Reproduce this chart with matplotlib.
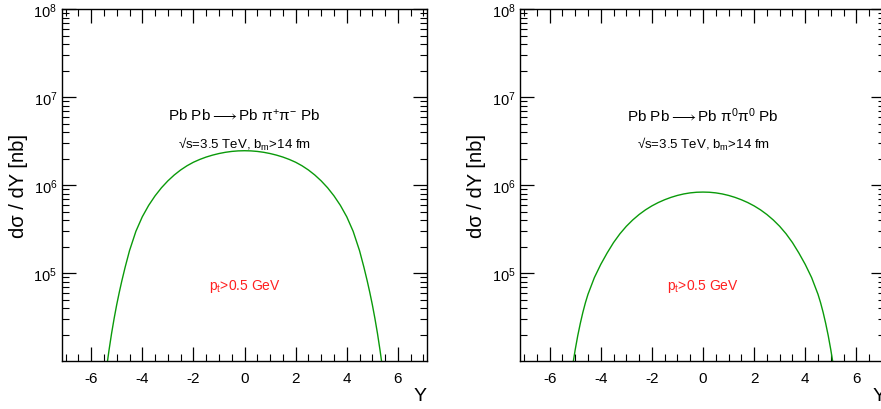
# -*- coding: utf-8 -*-
"""
Pb Pb -> Pb pi pi Pb : dsigma/dY, two panels.
"""
import matplotlib
matplotlib.use("Agg")
import matplotlib.pyplot as plt
from matplotlib.ticker import MultipleLocator, LogLocator, NullFormatter

plt.rcParams['font.family'] = ['Liberation Sans', 'DejaVu Sans']
plt.rcParams['mathtext.fontset'] = 'custom'
plt.rcParams['mathtext.rm'] = 'Liberation Sans'
plt.rcParams['mathtext.it'] = 'Liberation Sans:italic'
plt.rcParams['mathtext.sf'] = 'Liberation Sans'
plt.rcParams['mathtext.fallback'] = 'stixsans'
plt.rcParams['axes.unicode_minus'] = False

# rapidity points (pi+ pi-)
Y_pm = [-5.4, -5.3, -5.2, -5.1, -5.0, -4.9, -4.8, -4.67, -4.5, -4.25, -4.0, -3.75,
        -3.5, -3.25, -3.0, -2.75, -2.5, -2.25, -2.0, -1.75, -1.5, -1.25, -1.0,
        -0.75, -0.5, -0.25, 0.0,
        0.25, 0.5, 0.75, 1.0, 1.25, 1.5, 1.75, 2.0, 2.25, 2.5, 2.75, 3.0, 3.25,
        3.5, 3.75, 4.0, 4.25, 4.5, 4.67, 4.8, 4.9, 5.0, 5.1, 5.2, 5.3, 5.4]
# log10(dsigma/dY [nb])
lg_pm = [3.916, 4.126, 4.316, 4.486, 4.641, 4.781, 4.911, 5.067, 5.254, 5.474, 5.639, 5.769,
         5.877, 5.969, 6.047, 6.114, 6.171, 6.219, 6.259, 6.291, 6.318, 6.34, 6.358,
         6.372, 6.382, 6.388, 6.39,
         6.388, 6.382, 6.372, 6.358, 6.34, 6.318, 6.291, 6.259, 6.219, 6.171, 6.114, 6.047, 5.969,
         5.877, 5.769, 5.639, 5.474, 5.254, 5.067, 4.911, 4.781, 4.641, 4.486, 4.316, 4.126, 3.916]

# rapidity points (pi0 pi0)
Y_00 = [-5.1, -5.0, -4.9, -4.8, -4.7, -4.6, -4.5, -4.25, -4.0, -3.75, -3.5, -3.25,
        -3.0, -2.75, -2.5, -2.25, -2.0, -1.75, -1.5, -1.25, -1.0, -0.75, -0.5,
        -0.25, 0.0,
        0.25, 0.5, 0.75, 1.0, 1.25, 1.5, 1.75, 2.0, 2.25, 2.5, 2.75, 3.0, 3.25,
        3.5, 3.75, 4.0, 4.25, 4.5, 4.6, 4.7, 4.8, 4.9, 5.0, 5.1]
lg_00 = [3.948, 4.128, 4.288, 4.428, 4.553, 4.663, 4.758, 4.948, 5.098, 5.228, 5.346, 5.446,
         5.531, 5.603, 5.665, 5.718, 5.763, 5.801, 5.833, 5.86, 5.882, 5.899, 5.911,
         5.918, 5.92,
         5.918, 5.911, 5.899, 5.882, 5.86, 5.833, 5.801, 5.763, 5.718, 5.665, 5.603, 5.531, 5.446,
         5.346, 5.228, 5.098, 4.948, 4.758, 4.663, 4.553, 4.428, 4.288, 4.128, 3.948]

titel = ['Pb Pb$\\longrightarrow$Pb π$^{+}$π$^{-}$ Pb', 'Pb Pb$\\longrightarrow$Pb π$^{0}$π$^{0}$ Pb']
altyazi = '√s=3.5 TeV, b$_{\\mathrm{m}}$>14 fm'
kesim = 'p$_{\\mathrm{t}}$>0.5 GeV'

fig = plt.figure(figsize=(8.81, 4.10), dpi=100)
konumlar = [[0.0704, 0.117, 0.4143, 0.8585], [0.5908, 0.117, 0.4143, 0.8585]]

for i, (Y, lg) in enumerate([(Y_pm, lg_pm), (Y_00, lg_00)]):
    ax = fig.add_axes(konumlar[i])
    ax.plot(Y, [10**v for v in lg], color='#0a9a0a', lw=1.0)
    ax.set_yscale('log')
    ax.set_xlim(-7.14, 7.14)
    ax.set_ylim(1e4, 1e8)
    ax.set_yticks([1e5, 1e6, 1e7, 1e8])
    ax.yaxis.set_minor_locator(LogLocator(base=10, subs=range(2, 10)))
    ax.yaxis.set_minor_formatter(NullFormatter())
    ax.xaxis.set_major_locator(MultipleLocator(2))
    ax.xaxis.set_minor_locator(MultipleLocator(0.5))
    ax.tick_params(which='both', direction='in', top=True, right=True)
    ax.tick_params(axis='x', labelsize=11, pad=7)
    ax.tick_params(axis='y', labelsize=10.5)
    ax.tick_params(which='major', length=10, width=0.9)
    ax.tick_params(which='minor', length=5, width=0.8)
    for s in ax.spines.values():
        s.set_linewidth(1.0)
    ax.set_ylabel('dσ / dY [nb]', fontsize=14.5, labelpad=4)
    ax.set_xlabel('Y', fontsize=14)
    ax.xaxis.set_label_coords(1.0, -0.075)
    ax.xaxis.label.set_horizontalalignment('right')
    ax.text(0.0, 0.699, titel[i], transform=ax.get_xaxis_transform(),
            ha='center', va='center', fontsize=11)
    ax.text(0.0, 0.619, altyazi, transform=ax.get_xaxis_transform(),
            ha='center', va='center', fontsize=9.5)
    ax.text(0.0, 0.215, kesim, transform=ax.get_xaxis_transform(),
            ha='center', va='center', fontsize=10, color='#ff2020')

fig.savefig('out.png', dpi=100)
